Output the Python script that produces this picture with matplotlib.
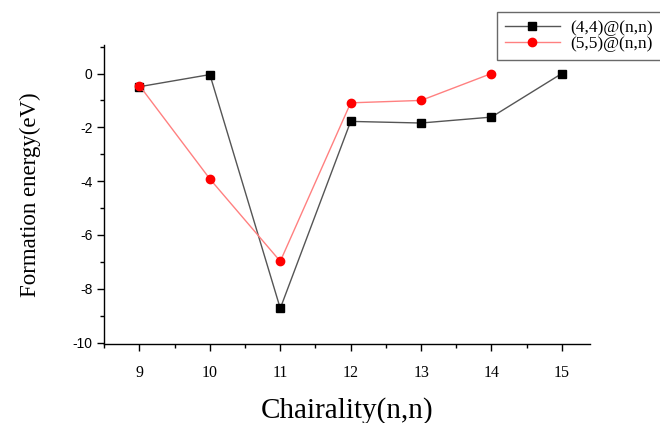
import matplotlib
matplotlib.use("Agg")
import matplotlib.pyplot as plt
from matplotlib.ticker import MultipleLocator

plt.rcParams["axes.unicode_minus"] = False

chirality = [9, 10, 11, 12, 13, 14, 15]
e_44 = [-0.49, -0.04, -8.73, -1.78, -1.84, -1.62, 0.0]
chirality_55 = [9, 10, 11, 12, 13, 14]
e_55 = [-0.45, -3.92, -6.98, -1.09, -1.0, 0.0]
x_ticks = [9, 10, 11, 12, 13, 14, 15]
y_ticks = [0, -2, -4, -6, -8, -10]

fig = plt.figure(figsize=(6.6, 4.23), dpi=100)
ax = fig.add_axes([0.158, 0.187, 0.736, 0.706])

ax.plot(chirality, e_44, color="#555555", lw=1.0, marker="s", ms=5.5,
        mfc="black", mec="black", label="(4,4)@(n,n)")
ax.plot(chirality_55, e_55, color="#ff8080", lw=1.0, marker="o", ms=6,
        mfc="red", mec="red", label="(5,5)@(n,n)")

ax.set_xlim(8.5, 15.4)
ax.set_ylim(-10.05, 1.05)
ax.set_xticks(x_ticks)
ax.set_yticks(y_ticks)
ax.xaxis.set_minor_locator(MultipleLocator(0.5))
ax.yaxis.set_minor_locator(MultipleLocator(1))
for s in ("top", "right"):
    ax.spines[s].set_visible(False)
for s in ("left", "bottom"):
    ax.spines[s].set_linewidth(1.0)
ax.tick_params(which="major", direction="out", length=5, width=1.0)
ax.tick_params(which="minor", direction="out", length=3, width=1.0)
ax.tick_params(axis="x", labelsize=11.5, pad=10)
ax.tick_params(axis="y", labelsize=10)
for lab in ax.get_xticklabels():
    lab.set_fontfamily("Liberation Serif")
for lab in ax.get_yticklabels():
    lab.set_fontfamily("Liberation Sans")

ax.set_xlabel("Chairality(n,n)", fontsize=21, family="Liberation Serif", labelpad=12)
ax.set_ylabel("Formation energy(eV)", fontsize=16.5, family="Liberation Serif", labelpad=23)

leg = ax.legend(loc="upper left", bbox_to_anchor=(0.808, 1.112),
                prop={"family": "Liberation Serif", "size": 12.5},
                frameon=True, fancybox=False, edgecolor="#444444",
                handlelength=3.2, borderpad=0.45, labelspacing=0.0,
                handletextpad=0.6, borderaxespad=0)
leg.get_frame().set_linewidth(1.0)

fig.savefig("out.png", dpi=100)
